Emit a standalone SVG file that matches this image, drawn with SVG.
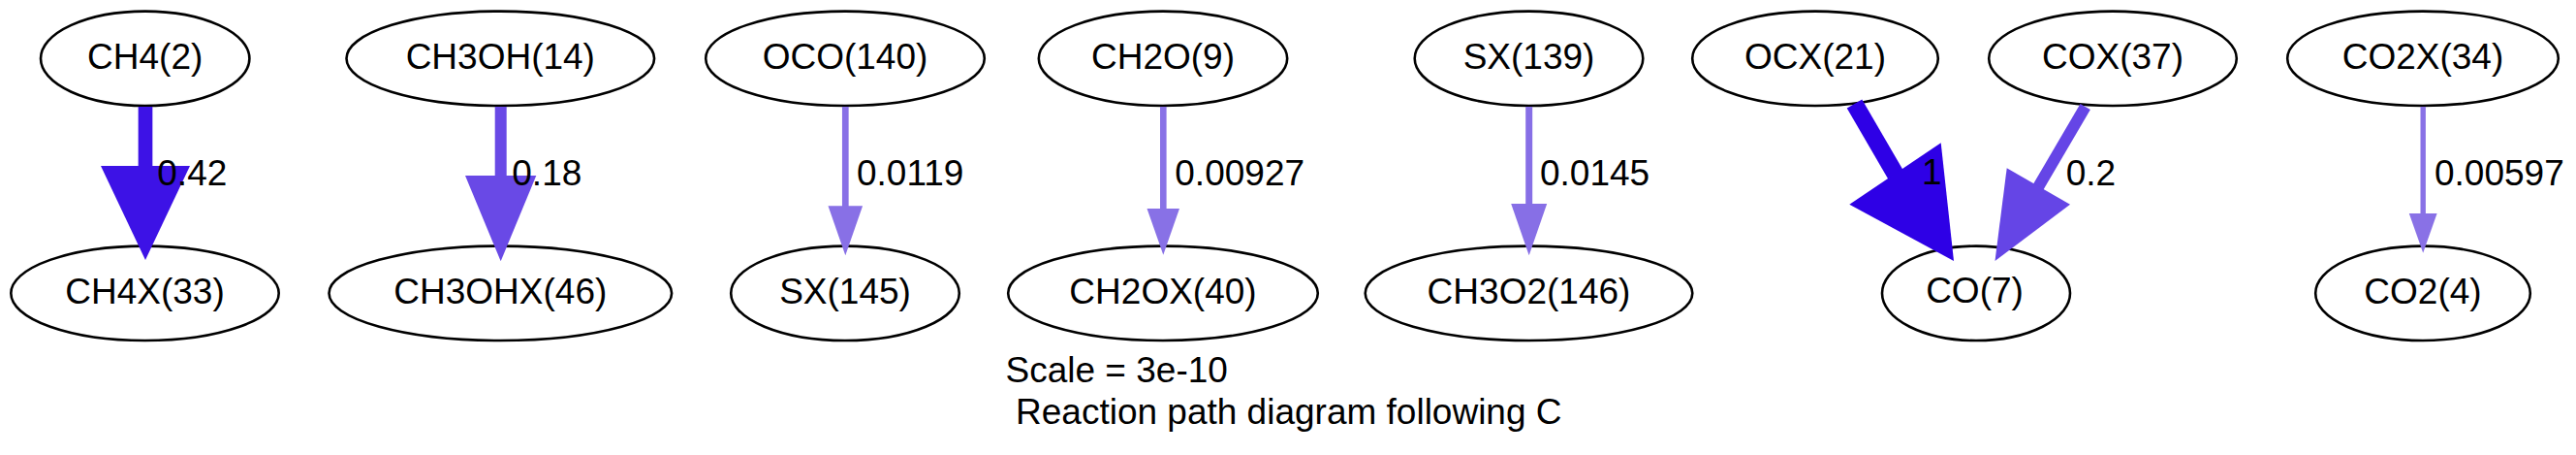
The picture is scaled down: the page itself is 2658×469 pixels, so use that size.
<svg xmlns="http://www.w3.org/2000/svg" width="2658" height="469" viewBox="0 0 2658 469">
<style>
.n ellipse{fill:none;stroke:#000;stroke-width:2.6}
.n text,.lbl{font-family:"Liberation Sans",Arial,Helvetica,sans-serif;font-size:37px;fill:#000}
.n text{text-anchor:middle}
.e line{fill:none;stroke-linecap:butt}
</style>
<rect width="2658" height="469" fill="#fff"/>
<g id="nodes">
<g id="CH4_2" class="n"><ellipse cx="149.7" cy="60.3" rx="107.7" ry="48.7"/><text x="149.7" y="70.5">CH4(2)</text></g>
<g id="CH3OH_14" class="n"><ellipse cx="516.3" cy="60.3" rx="158.8" ry="48.7"/><text x="516.3" y="70.5">CH3OH(14)</text></g>
<g id="OCO_140" class="n"><ellipse cx="872" cy="60.3" rx="143.8" ry="48.7"/><text x="872" y="70.5">OCO(140)</text></g>
<g id="CH2O_9" class="n"><ellipse cx="1200" cy="60.3" rx="128.2" ry="48.7"/><text x="1200" y="70.5">CH2O(9)</text></g>
<g id="SX_139" class="n"><ellipse cx="1577.5" cy="60.3" rx="117.8" ry="48.7"/><text x="1577.5" y="70.5">SX(139)</text></g>
<g id="OCX_21" class="n"><ellipse cx="1873" cy="60.3" rx="126.8" ry="48.7"/><text x="1873" y="70.5">OCX(21)</text></g>
<g id="COX_37" class="n"><ellipse cx="2180" cy="60.3" rx="127.8" ry="48.7"/><text x="2180" y="70.5">COX(37)</text></g>
<g id="CO2X_34" class="n"><ellipse cx="2500" cy="60.3" rx="139.8" ry="48.7"/><text x="2500" y="70.5">CO2X(34)</text></g>
<g id="CH4X_33" class="n"><ellipse cx="149.5" cy="302.3" rx="138.2" ry="48.7"/><text x="149.5" y="312.5">CH4X(33)</text></g>
<g id="CH3OHX_46" class="n"><ellipse cx="516.3" cy="302.3" rx="176.8" ry="48.7"/><text x="516.3" y="312.5">CH3OHX(46)</text></g>
<g id="SX_145" class="n"><ellipse cx="872" cy="302.3" rx="117.8" ry="48.7"/><text x="872" y="312.5">SX(145)</text></g>
<g id="CH2OX_40" class="n"><ellipse cx="1200" cy="302.3" rx="159.8" ry="48.7"/><text x="1200" y="312.5">CH2OX(40)</text></g>
<g id="CH3O2_146" class="n"><ellipse cx="1577.5" cy="302.3" rx="168.8" ry="48.7"/><text x="1577.5" y="312.5">CH3O2(146)</text></g>
<g id="CO_7" class="n"><ellipse cx="2039" cy="302.3" rx="97" ry="48.7"/><text x="2037.5" y="312">CO(7)</text></g>
<g id="CO2_4" class="n"><ellipse cx="2500" cy="302.3" rx="110.8" ry="48.7"/><text x="2500" y="312.5">CO2(4)</text></g>
</g>
<g id="connectors" class="e">
<g id="e1"><line x1="150" y1="110" x2="150" y2="172" stroke="#3d12e6" stroke-width="14.7"/><polygon points="104,171 196,171 150,268" fill="#3d12e6"/><text class="lbl" x="162.3" y="190.7">0.42</text></g>
<g id="e2"><line x1="516.7" y1="110" x2="516.7" y2="182" stroke="#6949e6" stroke-width="12"/><polygon points="480,181 553.3,181 516.7,269.3" fill="#6949e6"/><text class="lbl" x="528.3" y="190.7">0.18</text></g>
<g id="e3"><line x1="872.3" y1="110" x2="872.3" y2="213" stroke="#8870e6" stroke-width="6.7"/><polygon points="854.5,212.3 890.1,212.3 872.3,263.3" fill="#8870e6"/><text class="lbl" x="884" y="190.7">0.0119</text></g>
<g id="e4"><line x1="1200.3" y1="110" x2="1200.3" y2="216" stroke="#8871e6" stroke-width="6.6"/><polygon points="1183.5,215 1217,215 1200.3,262.7" fill="#8871e6"/><text class="lbl" x="1212.3" y="190.7">0.00927</text></g>
<g id="e5"><line x1="1577.7" y1="110" x2="1577.7" y2="211" stroke="#876fe6" stroke-width="7"/><polygon points="1559.2,210 1596.2,210 1577.7,263.3" fill="#876fe6"/><text class="lbl" x="1589" y="190.7">0.0145</text></g>
<g id="e6"><line x1="1913.5" y1="107" x2="1956" y2="180" stroke="#2e00e6" stroke-width="18"/><polygon points="1908.3,210.7 2002.7,147.3 2016,269" fill="#2e00e6"/><text class="lbl" x="1983" y="190">1</text></g>
<g id="e7"><line x1="2151.7" y1="110" x2="2103" y2="193" stroke="#6545e6" stroke-width="12"/><polygon points="2070.7,173.3 2136,210.7 2058.5,269" fill="#6545e6"/><text class="lbl" x="2131.7" y="190.7">0.2</text></g>
<g id="e8"><line x1="2500.2" y1="110" x2="2500.2" y2="221" stroke="#8971e6" stroke-width="5.4"/><polygon points="2485.8,220 2514.6,220 2500.2,260.7" fill="#8971e6"/><text class="lbl" x="2512" y="190.7">0.00597</text></g>
</g>
<g id="title">
<text class="lbl" x="1037.5" y="394">Scale = 3e-10</text>
<text class="lbl" x="1048" y="436.7">Reaction path diagram following C</text>
</g>
</svg>
